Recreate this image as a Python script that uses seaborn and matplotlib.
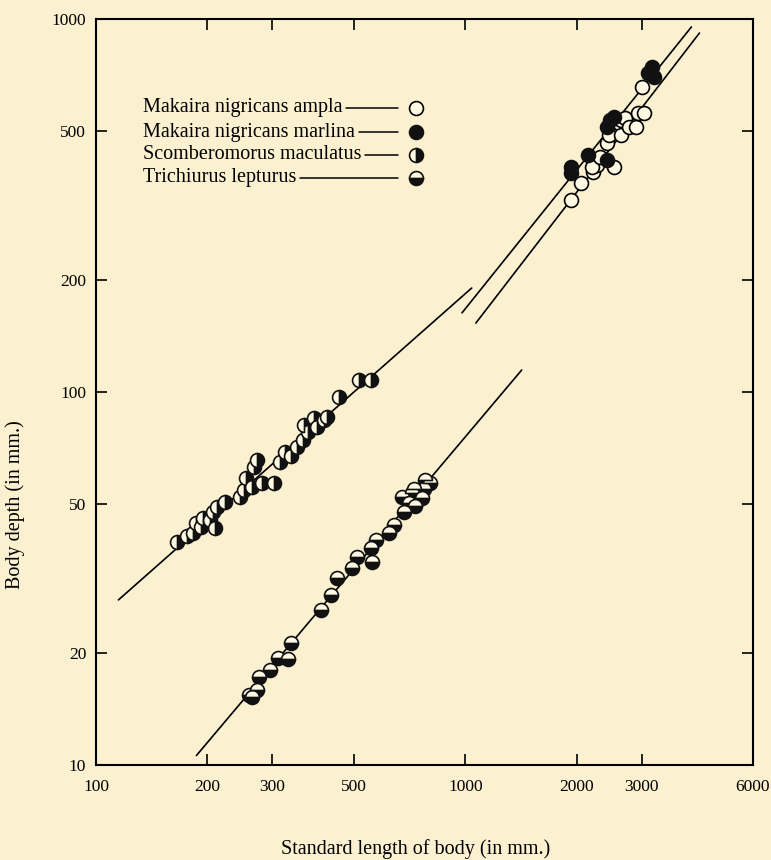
import matplotlib
matplotlib.use('Agg')
import matplotlib.pyplot as plt
import seaborn as sns
from matplotlib.ticker import NullLocator

# Makaira nigricans ampla (open circles)
ampla_length = [1930, 2050, 2220, 2265, 2195, 2520, 2320, 2410, 2440, 2600,
                2630, 2645, 2710, 2765, 2900, 2940, 3050, 3015]
ampla_depth = [327, 363, 389, 406, 401, 401, 427, 465, 489, 526,
               536, 489, 543, 514, 514, 560, 560, 657]

# Makaira nigricans marlina (filled circles)
marlina_length = [1930, 1930, 2150, 2410, 2470, 2520, 2410, 3130, 3190, 3230]
marlina_depth = [386, 401, 432, 420, 536, 547, 514, 716, 743, 699]

# Scomberomorus maculatus (right half black)
scomb_length = [166, 176, 183, 186, 193, 195, 203, 207, 212, 223,
                210, 245, 252, 255, 268, 272, 265, 282, 304, 314,
                324, 338, 350, 363, 374, 365, 390, 397, 415, 422,
                456, 516, 556]
scomb_depth = [39.6, 41, 42, 44.6, 43.5, 46, 45.4, 47.7, 49.2, 50.7,
               43.2, 52.3, 54.6, 58.8, 63, 65.7, 55.6, 57, 57, 64.9,
               69, 67.4, 71.2, 74.3, 78, 81.5, 85, 80.5, 84, 85.8,
               97, 108, 108]

# Trichiurus lepturus (bottom half black)
trich_length = [260, 265, 272, 277, 295, 310, 330, 338, 407, 433,
                450, 494, 510, 560, 556, 573, 622, 641, 683, 674,
                717, 704, 731, 765, 774, 803, 778, 727]
trich_depth = [15.4, 15.2, 15.9, 17.2, 18, 19.4, 19.2, 21.2, 26, 28.6,
               31.7, 33.7, 36.1, 35, 38.2, 40.1, 41.9, 44, 47.7, 52.3,
               53.6, 50.3, 49.6, 52, 55, 57, 58, 55]

# fitted lines (end points)
scomb_line_x = [115, 1040]
scomb_line_y = [27.7, 190]
trich_line_x = [187, 1420]
trich_line_y = [10.6, 114.5]
marlina_line_x = [979, 4090]
marlina_line_y = [163, 952]
ampla_line_x = [1067, 4300]
ampla_line_y = [153, 917]

x_ticks = [100, 200, 300, 500, 1000, 2000, 3000, 6000]
y_ticks = [10, 20, 50, 100, 200, 500, 1000]

legend_labels = ['Makaira nigricans ampla', 'Makaira nigricans marlina',
                 'Scomberomorus maculatus', 'Trichiurus lepturus']

sns.set_theme(style='ticks')
plt.rcParams['font.family'] = ['Liberation Serif', 'DejaVu Serif']
plt.rcParams['text.color'] = 'black'
plt.rcParams['axes.labelcolor'] = 'black'

bg = '#FBF0CF'
paper = '#FFF8E2'
ink = '#111111'

fig = plt.figure(figsize=(7.71, 8.6), dpi=100, facecolor=bg)
ax = fig.add_axes([0.1245, 0.1105, 0.852, 0.8674])
ax.set_facecolor(bg)
ax.set_xscale('log')
ax.set_yscale('log')

for lx, ly in [(scomb_line_x, scomb_line_y), (trich_line_x, trich_line_y),
               (marlina_line_x, marlina_line_y), (ampla_line_x, ampla_line_y)]:
    sns.lineplot(x=lx, y=ly, ax=ax, color='black', linewidth=1.2,
                 estimator=None, sort=False, zorder=2)

ms = 10
ax.plot(ampla_length, ampla_depth, ls='none', marker='o', ms=ms,
        mfc=paper, mec='black', mew=1.2, zorder=3)
ax.plot(marlina_length, marlina_depth, ls='none', marker='o', ms=ms,
        mfc=ink, mec=ink, mew=1.2, zorder=3)
ax.plot(scomb_length, scomb_depth, ls='none', marker='o', ms=ms,
        fillstyle='right', mfc=ink, mfcalt=paper, mec=ink,
        mew=1.2, zorder=3)
ax.plot(trich_length, trich_depth, ls='none', marker='o', ms=ms,
        fillstyle='bottom', mfc=ink, mfcalt=paper, mec=ink,
        mew=1.2, zorder=3)

ax.set_xlim(100, 6000)
ax.set_ylim(10, 1000)
ax.set_xticks(x_ticks)
ax.set_xticklabels([str(t) for t in x_ticks])
ax.set_yticks(y_ticks)
ax.set_yticklabels([str(t) for t in y_ticks])
ax.xaxis.set_minor_locator(NullLocator())
ax.yaxis.set_minor_locator(NullLocator())
ax.tick_params(which='major', direction='in', length=8, width=1.2,
               top=True, right=True, labelsize=12.5, colors='black')
ax.tick_params(axis='x', pad=10)
ax.tick_params(axis='y', pad=7)
for sp in ax.spines.values():
    sp.set_linewidth(1.5)
    sp.set_color('black')

ax.set_xlabel('Standard length of body (in mm.)', fontsize=14.5)
ax.set_ylabel('Body depth (in mm.)', fontsize=14.5)
ax.xaxis.set_label_coords(0.487, -0.100)
ax.yaxis.set_label_coords(-0.108, 0.349)

# hand-made legend: label, leader line, marker
rows_y = [0.881, 0.8485, 0.8177, 0.787]
styles = [dict(mfc=paper, mec='black'),
          dict(mfc=ink, mec=ink),
          dict(fillstyle='right', mfc=ink, mfcalt=paper, mec=ink),
          dict(fillstyle='bottom', mfc=ink, mfcalt=paper, mec=ink)]
texts = []
for lab, yy in zip(legend_labels, rows_y):
    texts.append(ax.text(0.0715, yy, lab, transform=ax.transAxes,
                         va='center', ha='left', fontsize=14.5))
fig.canvas.draw()
inv = ax.transAxes.inverted()
for t, yy, st in zip(texts, rows_y, styles):
    bb = t.get_window_extent()
    x_end = inv.transform((bb.x1 + 4, bb.y0))[0]
    ax.plot([x_end, 0.46], [yy, yy], color='black', lw=1.1,
            transform=ax.transAxes, clip_on=False)
    ax.plot([0.487], [yy], ls='none', marker='o', ms=ms, mew=1.2,
            transform=ax.transAxes, clip_on=False, **st)

fig.savefig('out.png', dpi=100, facecolor=bg)
